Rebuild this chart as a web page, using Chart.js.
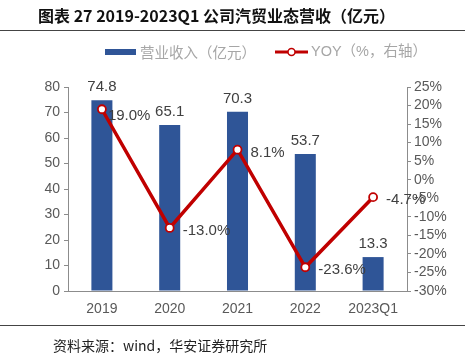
<!DOCTYPE html>
<html>
<head>
<meta charset="utf-8">
<script src="https://cdn.jsdelivr.net/npm/chart.js@4"></script>
<style>
  body { margin: 0; background: #fff; }
  canvas { display: block; }
</style>
</head>
<body>
<canvas id="chart" width="468" height="361"></canvas>
<script>
const categories = ['2019', '2020', '2021', '2022', '2023Q1'];
const revenue = [74.8, 65.1, 70.3, 53.7, 13.3];
const yoy = [19.0, -13.0, 8.1, -23.6, -4.7];

const FONT = '"Liberation Sans", Arial, "Noto Sans CJK SC", sans-serif';

// Title, separators, legend, source and value labels
const decorPlugin = {
    id: 'decor',
    afterDatasetDraw(chart, args) {
        // yoy labels go under the line, bar labels on top of everything
        if (args.index !== 0) return;
        const ctx = chart.ctx;
        ctx.save();
        ctx.fillStyle = '#404040';
        ctx.font = '15px ' + FONT;
        ctx.textBaseline = 'middle';
        ctx.textAlign = 'left';
        chart.getDatasetMeta(1).data.forEach((pt, i) => {
            const dx = i === 0 ? 6 : 13;
            ctx.fillText(yoy[i].toFixed(1) + '%', pt.x + dx, pt.y + (i === 0 ? 7 : 3));
        });
        ctx.restore();
    },
    afterDraw(chart) {
        const ctx = chart.ctx;
        ctx.save();
        // title
        ctx.fillStyle = '#111';
        ctx.font = 'bold 16px "Noto Sans CJK SC", sans-serif';
        ctx.textBaseline = 'middle';
        ctx.textAlign = 'left';
        ctx.fillText('图表 27 2019-2023Q1 公司汽贸业态营收（亿元）', 38, 16);
        ctx.strokeStyle = '#444';
        ctx.lineWidth = 1;
        ctx.beginPath(); ctx.moveTo(0, 30.5); ctx.lineTo(465, 30.5); ctx.stroke();
        ctx.beginPath(); ctx.moveTo(0, 325.5); ctx.lineTo(465, 325.5); ctx.stroke();
        // source
        ctx.font = '14px "Noto Sans CJK SC", sans-serif';
        ctx.fillStyle = '#222';
        ctx.fillText('资料来源：wind，华安证券研究所', 53, 346);

        // legend
        ctx.fillStyle = '#2F5597';
        ctx.fillRect(105, 49, 31, 6);
        ctx.font = '14.5px "Noto Sans CJK SC", sans-serif';
        ctx.fillStyle = '#a6a6a6';
        ctx.fillText('营业收入（亿元）', 140, 52);
        ctx.strokeStyle = '#C00000';
        ctx.lineWidth = 3;
        ctx.beginPath(); ctx.moveTo(275, 52); ctx.lineTo(308, 52); ctx.stroke();
        ctx.beginPath(); ctx.arc(291.5, 52, 3.5, 0, Math.PI * 2);
        ctx.fillStyle = '#fff'; ctx.fill();
        ctx.lineWidth = 1.5; ctx.stroke();
        ctx.fillStyle = '#a6a6a6';
        ctx.font = '14.5px ' + FONT;
        ctx.fillText('YOY（%，右轴）', 311, 52);

        // bar value labels
        ctx.fillStyle = '#404040';
        ctx.font = '15px ' + FONT;
        ctx.textAlign = 'center';
        chart.getDatasetMeta(0).data.forEach((bar, i) => {
            ctx.fillText(revenue[i].toFixed(1), bar.x, bar.y - 13);
        });
        ctx.restore();
    }
};

const tickFont = { size: 14, family: FONT };

const ctx = document.getElementById('chart').getContext('2d');
new Chart(ctx, {
    type: 'bar',
    data: {
        labels: categories,
        datasets: [{
            type: 'bar',
            label: '营业收入（亿元）',
            data: revenue,
            backgroundColor: '#2F5597',
            barPercentage: 0.62,
            categoryPercentage: 0.5,
            yAxisID: 'y',
            order: 2
        }, {
            type: 'line',
            label: 'YOY（%，右轴）',
            data: yoy,
            borderColor: '#C00000',
            borderWidth: 3.5,
            pointRadius: 4,
            pointBorderWidth: 1.8,
            pointBackgroundColor: '#fff',
            pointBorderColor: '#C00000',
            tension: 0,
            yAxisID: 'y1',
            order: 1
        }]
    },
    options: {
        responsive: false,
        animation: false,
        layout: { padding: { top: 87, left: 0, right: 0, bottom: 0 } },
        plugins: { legend: { display: false }, tooltip: { enabled: false } },
        scales: {
            x: {
                grid: { display: false, drawTicks: false },
                border: { color: '#8c8c8c' },
                ticks: { color: '#595959', font: tickFont, padding: 10 },
                afterFit(axis) { axis.height = 70; }
            },
            y: {
                position: 'left',
                min: 0, max: 80,
                grid: { display: true, drawOnChartArea: false, drawTicks: true, tickLength: 4, tickColor: '#8c8c8c' },
                border: { color: '#8c8c8c' },
                ticks: { stepSize: 10, autoSkip: false, color: '#595959', font: tickFont, padding: 4 },
                afterFit(axis) { axis.width = 68; }
            },
            y1: {
                position: 'right',
                min: -30, max: 25,
                grid: { display: true, drawOnChartArea: false, drawTicks: true, tickLength: 4, tickColor: '#8c8c8c' },
                border: { color: '#8c8c8c' },
                ticks: { stepSize: 5, autoSkip: false, color: '#595959', font: tickFont, padding: 3,
                    callback: v => v + '%' },
                afterFit(axis) { axis.width = 61; }
            }
        }
    },
    plugins: [decorPlugin]
});
</script>
</body>
</html>
